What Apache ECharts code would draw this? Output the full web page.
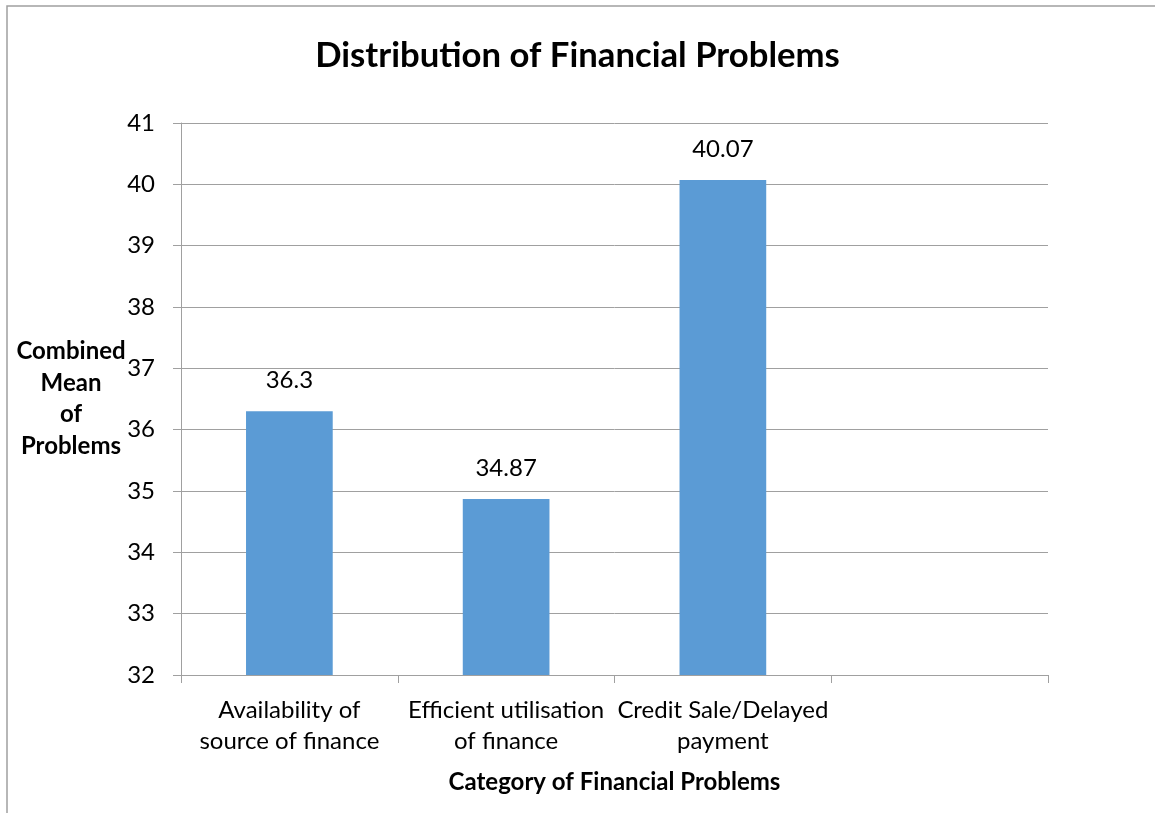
<!DOCTYPE html>
<html>
<head>
<meta charset="utf-8">
<script src="https://cdn.jsdelivr.net/npm/echarts@6/dist/echarts.min.js"></script>
<style>
html,body{margin:0;padding:0;background:#fff;}
#chart{width:1155px;height:813px;}
</style>
</head>
<body>
<div id="chart"></div>
<script>
var titleText = 'Distribution of Financial Problems';
var categories = ['Availability of\nsource of finance', 'Efficient utilisation\nof finance', 'Credit Sale/Delayed\npayment', ''];
var values = [36.3, 34.87, 40.07, null];
var yMin = 32, yMax = 41, yInterval = 1;
var xName = 'Category of Financial Problems';
var yName = 'Combined\nMean\nof\nProblems';

var FONT = 'Lato';
var chart = echarts.init(document.getElementById('chart'));
chart.setOption({
  backgroundColor: '#fff',
  animation: false,
  title: {
    text: titleText,
    left: 'center',
    top: 33,
    textStyle: {fontFamily: FONT, fontWeight: 'bold', fontSize: 34.7, color: '#000'}
  },
  graphic: [{
    type: 'polyline',
    shape: {points: [[7, 813], [7, 6], [1155, 6]]},
    style: {stroke: '#a0a0a0', lineWidth: 1.5, fill: null}
  }],
  grid: {left: 181, right: 107, top: 123, bottom: 138},
  xAxis: {
    type: 'category',
    data: categories,
    name: xName,
    nameLocation: 'middle',
    nameGap: 95,
    nameMoveOverlap: false,
    nameTextStyle: {fontFamily: FONT, fontWeight: 'bold', fontSize: 24, color: '#000'},
    axisLine: {lineStyle: {color: '#a0a0a0', width: 1}},
    axisTick: {show: true, length: 8, lineStyle: {color: '#a0a0a0'}},
    axisLabel: {fontFamily: FONT, fontSize: 24, color: '#000', lineHeight: 31, margin: 20, interval: 0}
  },
  yAxis: {
    type: 'value',
    min: yMin, max: yMax, interval: yInterval,
    name: yName,
    nameLocation: 'middle',
    nameRotate: 0,
    nameGap: 110,
    nameMoveOverlap: false,
    nameTextStyle: {fontFamily: FONT, fontWeight: 'bold', fontSize: 24, color: '#000', lineHeight: 31.5, align: 'center', verticalAlign: 'middle', padding: [4, 0, 0, 0]},
    axisLine: {show: true, lineStyle: {color: '#a0a0a0', width: 1}},
    axisTick: {show: true, length: 8, lineStyle: {color: '#a0a0a0'}},
    splitLine: {lineStyle: {color: '#a0a0a0', width: 1}},
    axisLabel: {fontFamily: FONT, fontSize: 24, color: '#000', margin: 26}
  },
  series: [{
    type: 'bar',
    data: values,
    barWidth: '40%',
    itemStyle: {color: '#5b9bd5'},
    label: {show: true, position: 'top', distance: 19, fontFamily: FONT, fontSize: 24, color: '#000'}
  }]
});
</script>
</body>
</html>
